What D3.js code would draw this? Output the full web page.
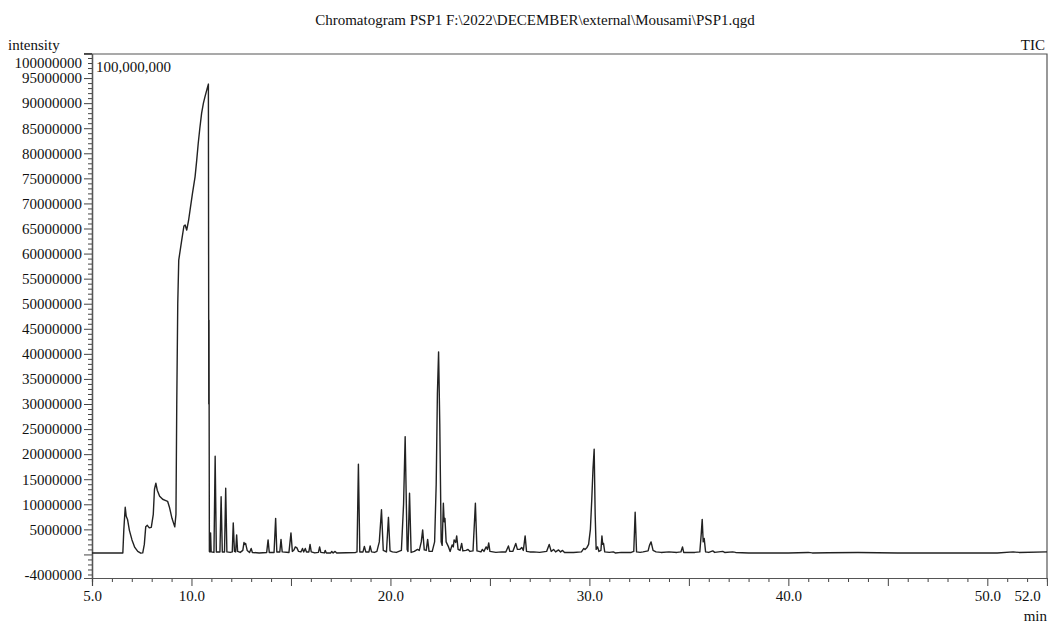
<!DOCTYPE html>
<html>
<head>
<meta charset="utf-8">
<script src="https://cdn.jsdelivr.net/npm/d3@7"></script>
<style>
  body { margin: 0; background: #fff; }
  svg { display: block; font-family: "Liberation Serif", "DejaVu Serif", serif; }
</style>
</head>
<body>
<div id="chart"></div>
<script>
// retention time (min), intensity (millions of counts)
const solventFront = [
  [5.0,0.3],[6.55,0.3],[6.60,5.0],[6.67,9.4],[6.72,7.6],[6.79,6.9],[6.88,4.8],[7.01,2.9],
  [7.15,1.4],[7.30,0.6],[7.45,0.25],[7.55,0.3],[7.63,2.0],[7.70,5.5],[7.78,5.8],[7.88,5.3],
  [7.98,5.4],[8.08,8.0],[8.14,13.0],[8.21,14.2],[8.28,12.8],[8.40,11.6],[8.55,11.0],[8.68,10.8],
  [8.80,10.6],[8.90,9.3],[9.02,7.2],[9.16,5.5],[9.22,8],[9.26,30],[9.31,50],[9.36,58.7],
  [9.51,62.7],[9.62,65.5],[9.68,65.7],[9.76,64.7],[9.85,66.5],[9.93,68.7],[10.05,72],[10.18,75.3],
  [10.26,78.5],[10.34,82],[10.42,85],[10.51,88],[10.60,90],[10.68,91.3],[10.78,92.8],[10.85,93.8],
  [10.87,30],[10.88,46.7],[10.90,0.6],[10.93,0.5]
];
const earlyPeaks = [
  [10.96,4.3],[10.99,0.5],[11.13,0.4],[11.19,19.6],[11.25,0.5],[11.43,0.5],[11.49,11.5],[11.55,0.5],
  [11.66,0.5],[11.72,13.2],[11.78,0.5],[11.95,0.4],[12.05,0.5],[12.10,6.3],[12.16,0.6],[12.22,0.5],
  [12.27,3.9],[12.32,0.6],[12.45,0.4],[12.58,0.8],[12.64,2.4],[12.68,2.0],[12.72,2.2],[12.80,0.8],
  [12.92,0.4],[13.0,1.2],[13.06,0.4],[13.4,0.3],[13.78,0.4],[13.85,2.9],[13.91,0.4],[14.15,0.4],
  [14.23,7.2],[14.29,0.5],[14.44,0.5],[14.5,3.0],[14.56,0.5],[14.9,0.4],[15.0,4.3],[15.07,0.6],
  [15.15,0.9],[15.22,1.5],[15.3,1.3],[15.38,0.6],[15.5,0.5],[15.58,1.2],[15.64,0.5],[15.72,1.2],
  [15.78,0.5],[15.9,0.5],[15.96,2.0],[16.02,0.5],[16.2,0.3],[16.38,0.4],[16.44,1.5],[16.5,0.4],
  [16.68,0.3],[16.72,0.8],[16.78,0.3],[17.0,0.3],[17.05,0.6],[17.12,0.3],[17.22,0.6],[17.3,0.3],
  [18.25,0.4]
];
const middlePeaks = [
  [18.32,0.5],[18.39,18.0],[18.46,0.5],[18.62,0.5],[18.69,1.6],[18.76,0.5],[18.92,0.5],[18.98,1.7],
  [19.05,0.5],[19.2,0.4],[19.32,0.6],[19.44,2.5],[19.55,8.9],[19.64,0.8],[19.8,0.5],[19.9,7.4],
  [19.98,0.7],[20.1,0.5],[20.3,0.4],[20.55,0.8],[20.66,10],[20.74,23.5],[20.84,1.0],[20.88,0.6],
  [20.96,12.2],[21.04,0.4],[21.2,0.6],[21.36,1.0],[21.45,0.8],[21.55,2.5],[21.62,4.9],[21.7,0.9],
  [21.8,0.8],[21.87,3.0],[21.94,0.6],[22.1,0.6],[22.22,2.5],[22.3,14],[22.36,32],[22.42,40.4],
  [22.48,26],[22.55,2.5],[22.6,1.8],[22.66,10.2],[22.70,6.5],[22.74,7.2],[22.8,2.5],[22.92,1.5],
  [23.0,0.6],[23.1,1.9],[23.16,1.5],[23.2,2.9],[23.28,2.4],[23.33,3.7],[23.4,1.0],[23.5,0.8],
  [23.58,2.2],[23.64,0.7],[23.8,0.8],[23.9,1.0],[24.0,0.6],[24.15,0.7],[24.27,10.2],[24.35,0.7],
  [24.55,0.5],[24.62,1.0],[24.7,0.6],[24.81,1.5],[24.88,1.0],[24.94,2.3],[25.0,0.6],[25.3,0.4],
  [25.6,0.5],[25.8,0.5],[25.93,1.7],[26.0,0.6],[26.15,0.6],[26.3,2.2],[26.38,1.0],[26.5,1.0],
  [26.6,1.4],[26.68,0.8],[26.77,3.7],[26.84,0.6],[27.0,0.5]
];
const latePeaks = [
  [27.2,0.5],[27.5,0.4],[27.85,0.6],[27.98,2.0],[28.08,0.6],[28.2,1.0],[28.3,0.5],[28.45,0.9],
  [28.55,0.5],[28.65,0.8],[28.75,0.4],[29.2,0.4],[29.6,0.5],[29.72,1.2],[29.78,1.0],[29.88,1.4],
  [29.96,2.0],[30.05,5],[30.12,11],[30.18,17],[30.24,21.0],[30.29,8],[30.34,1.0],[30.41,1.5],[30.48,0.6],
  [30.58,0.8],[30.63,3.7],[30.67,2.0],[30.71,2.2],[30.77,0.5],[31.0,0.4],[31.2,0.5],[31.3,0.3],
  [31.6,0.4],[32.1,0.4],[32.23,0.6],[32.3,8.4],[32.37,0.5],[32.55,0.4],[32.7,0.5],[32.95,0.7],
  [33.02,1.8],[33.1,2.5],[33.2,0.8],[33.35,0.5],[33.6,0.4],[34.0,0.5],[34.4,0.4],[34.6,0.5],
  [34.68,1.5],[34.74,0.4],[35.3,0.4],[35.55,0.5],[35.62,4],[35.67,7.0],[35.72,2.5],[35.77,3.2],
  [35.84,0.5],[36.0,0.4],[36.2,0.7],[36.3,0.4],[36.5,0.5],[36.7,0.6],[36.8,0.4],[37.2,0.5],
  [37.35,0.4],[38.0,0.3],[40.0,0.3],[41.0,0.4],[41.2,0.3],[42.0,0.35],[43.5,0.4],[44.5,0.35],
  [45.5,0.3],[48.0,0.3],[50.5,0.3],[51.3,0.5],[51.6,0.4],[53.0,0.5]
];

const xLabels = [5, 10, 20, 30, 40, 50, 52]
const yLabels = [-4, 5, 10, 15, 20, 25, 30, 35, 40, 45, 50, 55, 60, 65, 70, 75, 80, 85, 90, 95, 100]

const width = 1048
const height = 626
const plotLeft = 92, plotRight = 1047, plotTop = 54, plotBottom = 578
const ink = '#111'

const svg = d3.select('#chart')
  .append('svg')
  .attr('width', width)
  .attr('height', height)

const x = d3.scaleLinear().domain([5, 53]).range([plotLeft, plotRight])
const y = d3.scaleLinear().domain([-4.7, 99.8]).range([plotBottom, plotTop])

// Title and corner labels
svg.append('text')
  .attr('x', 535).attr('y', 25)
  .attr('text-anchor', 'middle')
  .attr('font-size', '15px')
  .attr('fill', ink)
  .text('Chromatogram PSP1 F:\\2022\\DECEMBER\\external\\Mousami\\PSP1.qgd')

svg.append('text')
  .attr('x', 8).attr('y', 50)
  .attr('font-size', '15px')
  .attr('fill', ink)
  .text('intensity')

svg.append('text')
  .attr('x', 1045).attr('y', 50)
  .attr('text-anchor', 'end')
  .attr('font-size', '15px')
  .attr('fill', ink)
  .text('TIC')

svg.append('text')
  .attr('x', 1047).attr('y', 621)
  .attr('text-anchor', 'end')
  .attr('font-size', '15px')
  .attr('fill', ink)
  .text('min')

svg.append('text')
  .attr('x', 96).attr('y', 72)
  .attr('font-size', '15px')
  .attr('fill', ink)
  .text('100,000,000')

// Frame (top and right)
svg.append('path')
  .attr('d', `M${plotLeft},${plotTop}H${plotRight}V${plotBottom}`)
  .attr('fill', 'none')
  .attr('stroke', '#555')
  .attr('stroke-width', 1.2)

// X axis
const xMinor = d3.range(6, 54, 1).filter(d => d % 5 !== 0)
const xMajor = d3.range(5, 54, 5)
const xAxisG = svg.append('g').attr('transform', `translate(0,${plotBottom})`)
xAxisG.append('g')
  .call(d3.axisBottom(x).tickValues(xMinor).tickSize(4).tickFormat(''))
xAxisG.append('g')
  .call(d3.axisBottom(x).tickValues(xMajor).tickSize(8).tickFormat(''))
xAxisG.append('g')
  .call(d3.axisBottom(x).tickValues(xLabels).tickSize(0).tickPadding(12).tickFormat(d3.format('.1f')))
xAxisG.selectAll('.domain').attr('stroke', '#555').attr('stroke-width', 1.2)
xAxisG.selectAll('.tick line').attr('stroke', '#444')
xAxisG.selectAll('text')
  .attr('font-family', '"Liberation Serif", serif')
  .attr('font-size', '15px')
  .attr('fill', ink)

// Y axis
const yMinor = d3.range(-4, 100, 1).filter(d => d % 5 !== 0)
const yMajor = d3.range(0, 101, 5)
const yAxisG = svg.append('g').attr('transform', `translate(${plotLeft},0)`)
yAxisG.append('g')
  .call(d3.axisLeft(y).tickValues(yMinor).tickSize(4).tickFormat(''))
yAxisG.append('g')
  .call(d3.axisLeft(y).tickValues(yMajor).tickSize(8).tickFormat(''))
yAxisG.append('g')
  .call(d3.axisLeft(y).tickValues(yLabels).tickSize(0).tickPadding(10).tickFormat(d => String(d * 1e6)))
yAxisG.selectAll('.domain').attr('stroke', '#555').attr('stroke-width', 1.2)
yAxisG.selectAll('.tick line').attr('stroke', '#444')
yAxisG.selectAll('text')
  .attr('font-family', '"Liberation Serif", serif')
  .attr('font-size', '15px')
  .attr('fill', ink)
// the top label sits just below the frame, like the instrument software does
yAxisG.selectAll('.tick')
  .filter(d => d === 100)
  .select('text')
  .attr('dy', '0.95em')

// Trace
const trace = [].concat(solventFront, earlyPeaks, middlePeaks, latePeaks)
const line = d3.line()
  .x(d => x(d[0]))
  .y(d => y(d[1]))

svg.append('path')
  .datum(trace)
  .attr('d', line)
  .attr('fill', 'none')
  .attr('stroke', '#222')
  .attr('stroke-width', 1.4)
  .attr('stroke-linejoin', 'round')
</script>
</body>
</html>
